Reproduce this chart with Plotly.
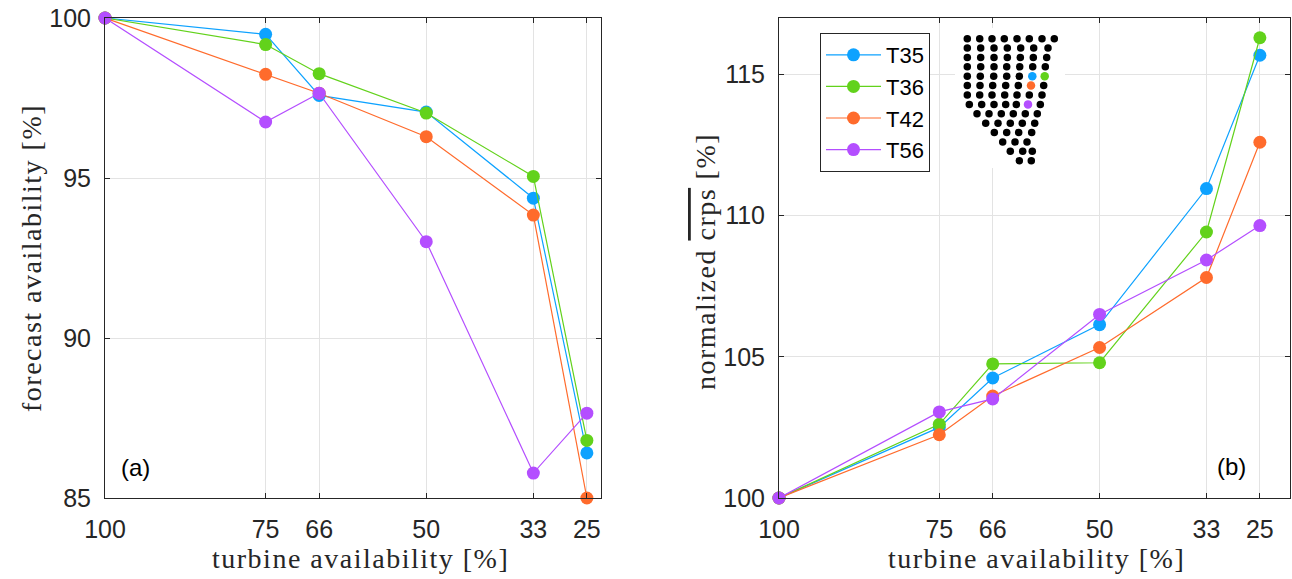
import plotly.graph_objects as go

# ---------------- data ----------------
x_avail = [100, 75, 66.67, 50, 33.33, 25]
x_ticktext = ["100", "75", "66", "50", "33", "25"]
series_names = ["T35", "T36", "T42", "T56"]
series_colors = ["#0DA2FF", "#62D21B", "#FF6B2C", "#B44EFF"]

forecast_T35 = [100, 99.49, 97.58, 97.06, 94.37, 86.41]
forecast_T36 = [100, 99.17, 98.26, 97.03, 95.05, 86.80]
forecast_T42 = [100, 98.24, 97.65, 96.29, 93.84, 85.00]
forecast_T56 = [100, 96.75, 97.65, 93.01, 85.78, 87.65]

crps_T35 = [100, 102.50, 104.25, 106.14, 110.96, 115.68]
crps_T36 = [100, 102.61, 104.75, 104.79, 109.42, 116.30]
crps_T42 = [100, 102.24, 103.61, 105.33, 107.81, 112.60]
crps_T56 = [100, 103.05, 103.51, 106.50, 108.43, 109.65]

left_yticks = [85, 90, 95, 100]
right_yticks = [100, 105, 110, 115]

# wind-farm layout inset: turbine x positions per row (rows top to bottom)
farm_rows_x = [
    [12.3, 24.7, 37.0, 49.3, 62.0, 74.3, 87.0, 99.3],
    [12.3, 25.7, 39.0, 52.3, 65.7, 78.7, 93.0],
    [12.3, 25.7, 39.0, 52.3, 65.3, 78.3, 91.7],
    [12.3, 25.7, 39.0, 51.7, 64.7, 77.7, 90.3],
    [12.3, 25.3, 38.7, 51.7, 64.3, 77.3, 89.7],
    [12.3, 25.0, 37.7, 50.7, 63.3, 76.0, 88.7],
    [12.3, 24.7, 37.0, 49.7, 62.0, 74.3, 87.0],
    [14.3, 26.7, 39.0, 50.7, 61.3, 73.0, 85.3],
    [22.0, 34.0, 46.3, 58.3, 70.3, 82.3],
    [30.7, 43.0, 55.3, 67.3, 79.7],
    [39.3, 51.7, 63.7, 76.7],
    [47.7, 60.0, 72.0],
    [55.3, 67.7, 77.3],
    [64.3, 76.3],
]
# highlighted turbines (row, column) for T35, T36, T42, T56
highlight_idx = [(4, 5), (4, 6), (5, 5), (7, 5)]

# ---------------- figure ----------------
W, H = 1292, 579
fig = go.Figure()

forecast = [forecast_T35, forecast_T36, forecast_T42, forecast_T56]
crps = [crps_T35, crps_T36, crps_T42, crps_T56]

for name, col, yv in zip(series_names, series_colors, forecast):
    fig.add_trace(go.Scatter(x=x_avail, y=yv, mode="lines+markers", name=name,
                             line=dict(color=col, width=1.2),
                             marker=dict(color=col, size=13),
                             xaxis="x", yaxis="y", cliponaxis=False, showlegend=False))
for name, col, yv in zip(series_names, series_colors, crps):
    fig.add_trace(go.Scatter(x=x_avail, y=yv, mode="lines+markers", name=name,
                             line=dict(color=col, width=1.2),
                             marker=dict(color=col, size=13),
                             xaxis="x2", yaxis="y2", cliponaxis=False, showlegend=True))

# inset
bx, by = [], []
for r, row in enumerate(farm_rows_x):
    for c, xv in enumerate(row):
        if (r, c) not in highlight_idx:
            bx.append(xv)
            by.append(r)
fig.add_trace(go.Scatter(x=bx, y=by, mode="markers", marker=dict(color="black", size=7.5),
                         xaxis="x3", yaxis="y3", showlegend=False, hoverinfo="skip"))
for (r, c), col in zip(highlight_idx, series_colors):
    fig.add_trace(go.Scatter(x=[farm_rows_x[r][c]], y=[r], mode="markers",
                             marker=dict(color=col, size=8.5),
                             xaxis="x3", yaxis="y3", showlegend=False, hoverinfo="skip"))


def px(v):
    return v / W


def py(v):
    return 1 - v / H


axis_col = "#262626"
grid_col = "#e3e3e3"
tick_font = dict(family="Liberation Sans, Arial, sans-serif", size=25, color=axis_col)
common = dict(showline=True, linecolor=axis_col, linewidth=1, mirror="all",
              ticks="inside", ticklen=5, tickcolor=axis_col, showgrid=True,
              gridcolor=grid_col, gridwidth=1, zeroline=False, tickfont=tick_font,
              automargin=False)

fig.update_layout(
    template="none",
    width=W, height=H,
    margin=dict(l=0, r=0, t=0, b=0, pad=0),
    paper_bgcolor="white", plot_bgcolor="white",
    xaxis=dict(domain=[px(105), px(601)], range=[100, 22.8], tickvals=x_avail,
               ticktext=x_ticktext, anchor="y", ticklabelstandoff=9, **common),
    yaxis=dict(domain=[py(498), py(18)], range=[85, 100], tickvals=left_yticks,
               anchor="x", ticklabelstandoff=8, **common),
    xaxis2=dict(domain=[px(779), px(1290)], range=[100, 20.3], tickvals=x_avail,
                ticktext=x_ticktext, anchor="y2", ticklabelstandoff=9, **common),
    yaxis2=dict(domain=[py(498), py(18)], range=[100, 117], tickvals=right_yticks,
                anchor="x2", ticklabelstandoff=8, **common),
    xaxis3=dict(domain=[px(955), px(1065)], range=[0, 110], visible=False, anchor="y3"),
    yaxis3=dict(domain=[py(168), py(28)], range=[13.78, -1.14], visible=False, anchor="x3"),
    legend=dict(x=px(820), y=py(33), xanchor="left", yanchor="top",
                bgcolor="white", bordercolor=axis_col, borderwidth=1,
                font=dict(family="Liberation Sans, Arial, sans-serif", size=22, color="black"),
                itemwidth=55, tracegroupgap=0),
    showlegend=True,
)

serif = dict(family="Liberation Serif, Times New Roman, serif", size=28, color=axis_col)
ls = "<span style='letter-spacing:1.5px'>%s</span>"
annos = [
    dict(x=px(360), y=py(558), text=ls % "turbine availability [%]", textangle=0, font=serif),
    dict(x=px(1036), y=py(558), text=ls % "turbine availability [%]", textangle=0, font=serif),
    dict(x=px(31), y=py(258), text=ls % "forecast availability [%]", textangle=-90, font=serif),
    dict(x=px(705), y=py(262),
         text="<span style='letter-spacing:1.5px'>normalized <span style='text-decoration:overline'>crps</span> [%]</span>",
         textangle=-90, font=serif),
    dict(x=px(135), y=py(467), text="(a)", textangle=0,
         font=dict(family="Liberation Sans, Arial, sans-serif", size=24, color="black")),
    dict(x=px(1231), y=py(466), text="(b)", textangle=0,
         font=dict(family="Liberation Sans, Arial, sans-serif", size=24, color="black")),
]
for a in annos:
    fig.add_annotation(xref="paper", yref="paper", showarrow=False,
                       xanchor="center", yanchor="middle", **a)

fig.write_html("out.html")
